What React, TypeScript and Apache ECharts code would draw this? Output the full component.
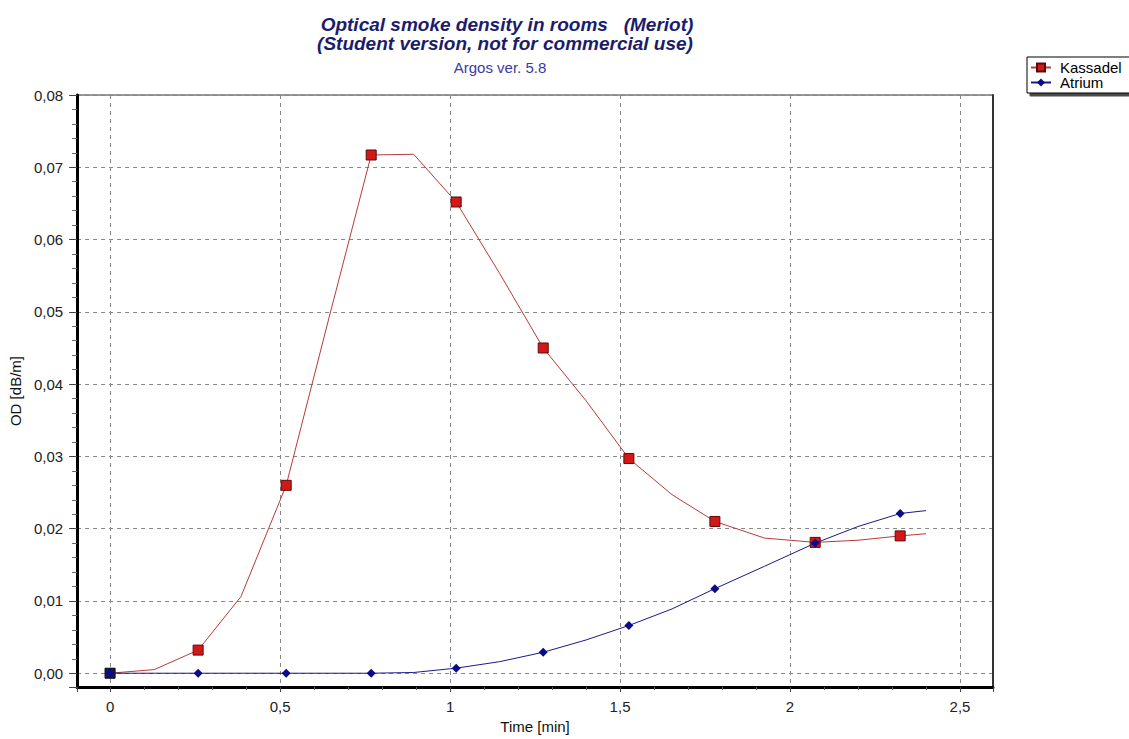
import React, { useEffect, useRef } from "react";
import * as echarts from "echarts";

// Time [min] of every sampled line point (markers on every second point)
const timeMin = [0, 0.13, 0.259, 0.385, 0.518, 0.643, 0.768, 0.893, 1.018, 1.146, 1.274, 1.4, 1.526, 1.653, 1.779, 1.925, 2.074, 2.2, 2.324, 2.4];
const kassadel = [0, 0.0005, 0.0032, 0.0106, 0.026, 0.049, 0.0717, 0.0718, 0.0652, 0.0553, 0.045, 0.0377, 0.0297, 0.0247, 0.021, 0.0187, 0.0181, 0.0184, 0.019, 0.0193];
const atrium = [0, 0, 0, 0, 0, 0, 0, 0.0001, 0.0007, 0.0016, 0.0029, 0.0046, 0.0066, 0.0089, 0.0117, 0.0148, 0.018, 0.0203, 0.0221, 0.0225];
const seriesNames = ["Kassadel", "Atrium"];
const titleLines = ["Optical smoke density in rooms   (Meriot)", "(Student version, not for commercial use)"];
const subtitle = "Argos ver. 5.8";
const xName = "Time [min]";
const yName = "OD [dB/m]";

const FONT = "Arial, 'Liberation Sans', sans-serif";
const comma = (v: number, d?: number) => (d === undefined ? String(v) : v.toFixed(d)).replace(".", ",");

export default function App() {
  const ref = useRef<HTMLDivElement>(null);
  useEffect(() => {
    if (!ref.current) return;
    const chart = echarts.init(ref.current, undefined, { renderer: "svg" });
    const mk = (vals: number[], marked: (i: number) => any) =>
      vals.map((v, i) => {
        const item: any = { value: [timeMin[i], v] };
        if (i % 2 === 1) item.symbol = "none";
        const extra = marked(i);
        if (extra) Object.assign(item, extra);
        return item;
      });
    chart.setOption({
      animation: false,
      backgroundColor: "#fff",
      graphic: [
        { type: "text", x: 507, y: 24, style: { text: titleLines[0], fill: "#1c1c6e", font: "italic bold 19px " + FONT, textAlign: "center", textVerticalAlign: "middle" } },
        { type: "text", x: 505, y: 43, style: { text: titleLines[1], fill: "#1c1c6e", font: "italic bold 19px " + FONT, textAlign: "center", textVerticalAlign: "middle" } },
        { type: "text", x: 500, y: 67, style: { text: subtitle, fill: "#3a3aa8", font: "15px " + FONT, textAlign: "center", textVerticalAlign: "middle" } },
      ],
      legend: {
        data: seriesNames,
        orient: "vertical",
        left: 1027,
        top: 57,
        itemWidth: 20,
        itemHeight: 10,
        itemGap: 0,
        padding: [3, 30, 3, 3],
        borderColor: "#000",
        borderWidth: 1,
        backgroundColor: "#fff",
        shadowColor: "rgba(0,0,0,0.7)",
        shadowOffsetX: 3,
        shadowOffsetY: 3,
        shadowBlur: 1,
        textStyle: { fontSize: 15, color: "#000", fontFamily: FONT, padding: [0, 0, 0, 4] },
      },
      grid: { left: 77, top: 95, width: 916, height: 597, show: true, borderColor: "#333", borderWidth: 1 },
      xAxis: {
        type: "value",
        min: -0.097,
        max: 2.597,
        splitNumber: 5,
        name: xName,
        nameLocation: "middle",
        nameGap: 30,
        nameTextStyle: { fontSize: 15, color: "#111", fontFamily: FONT },
        axisLine: { show: true, onZero: false, lineStyle: { color: "#000", width: 3 } },
        axisTick: { show: true, length: 5, lineStyle: { color: "#444" } },
        minorTick: { show: true, splitNumber: 5, length: 3, lineStyle: { color: "#666" } },
        axisLabel: { showMinLabel: false, showMaxLabel: false, margin: 12, fontSize: 15, color: "#222", fontFamily: FONT, formatter: (v: number) => comma(v) },
        splitLine: { show: true, lineStyle: { color: "#888", type: [4, 4], width: 1 } },
      },
      yAxis: [
        {
          type: "value",
          min: -0.00192,
          max: 0.08,
          splitNumber: 8,
          name: yName,
          nameLocation: "middle",
          nameGap: 47,
          nameTextStyle: { fontSize: 15, color: "#111", fontFamily: FONT },
          axisLine: { show: true, onZero: false, lineStyle: { color: "#000", width: 3 } },
          axisTick: { show: true, length: 8, lineStyle: { color: "#444" } },
          minorTick: { show: true, splitNumber: 5, length: 5, lineStyle: { color: "#666" } },
          axisLabel: { showMinLabel: false, margin: 14, fontSize: 15, color: "#222", fontFamily: FONT, formatter: (v: number) => comma(v, 2) },
          splitLine: { show: true, lineStyle: { color: "#888", type: [4, 4], width: 1 } },
        },
        {
          type: "value",
          position: "right",
          min: -0.00192,
          max: 0.08,
          axisLine: { show: true, onZero: false, lineStyle: { color: "#333", width: 2 } },
          axisTick: { show: false },
          axisLabel: { show: false },
          splitLine: { show: false },
        },
      ],
      series: [
        {
          name: seriesNames[0],
          type: "line",
          showAllSymbol: true,
          symbol: "rect",
          symbolSize: 10,
          itemStyle: { color: "#d41818", borderColor: "#5a0a0a", borderWidth: 1 },
          lineStyle: { color: "#b83a3a", width: 1 },
          data: mk(kassadel, (i) => (i === 0 ? { itemStyle: { color: "#1a1a5a", borderColor: "#000" } } : null)),
          z: 2,
        },
        {
          name: seriesNames[1],
          type: "line",
          showAllSymbol: true,
          symbol: "diamond",
          symbolSize: 9,
          itemStyle: { color: "#0a0a8a", borderColor: "#0a0a8a", borderWidth: 0 },
          lineStyle: { color: "#1a1a8a", width: 1 },
          data: mk(atrium, () => null),
          z: 3,
        },
      ],
    });
    return () => chart.dispose();
  }, []);
  return <div ref={ref} style={{ position: "fixed", left: 0, top: 0, width: 1129, height: 739 }} />;
}
